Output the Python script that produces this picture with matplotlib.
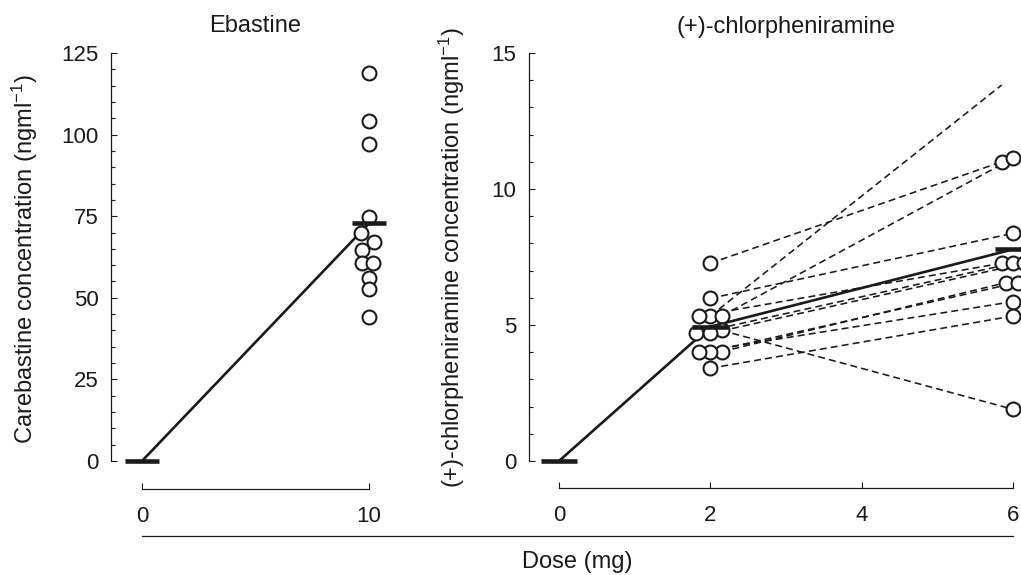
import numpy as np
import matplotlib
matplotlib.use('Agg')
import matplotlib.pyplot as plt
from matplotlib.lines import Line2D
from matplotlib.ticker import FixedLocator

plt.rcParams['font.family'] = ['Liberation Sans', 'DejaVu Sans']
plt.rcParams['mathtext.fontset'] = 'custom'
plt.rcParams['mathtext.rm'] = 'Liberation Sans'
plt.rcParams['mathtext.it'] = 'Liberation Sans:italic'
plt.rcParams['lines.scale_dashes'] = False

ink = '#1a1a1a'
fs_tick = 16
fs_text = 17

# Ebastine panel: carebastine concentration at 10 mg
eba_dose = 10
eba_conc = [119.0, 104.2, 97.0, 74.8, 69.9, 67.0, 64.6, 60.6, 60.6, 56.2, 52.7, 44.2]
eba_jitter = [0, 0, 0, 0, -0.35, 0.22, -0.33, -0.3, 0.18, 0, 0, 0]
eba_mean_dose = [0, 10]
eba_mean = [0, 72.8]

# (+)-chlorpheniramine panel: paired subjects, 2 mg -> 6 mg
chl_doses = [2, 6]
chl_2mg = [7.27, 5.98, 5.33, 5.33, 5.33, 4.80, 4.69, 4.69, 4.02, 4.02, 4.02, 3.41]
chl_6mg = [11.00, 8.37, 13.82, 11.13, 7.27, 1.90, 7.27, 7.27, 6.56, 6.56, 5.86, 5.33]
jit_2mg = [0, 0, 0, 0.15, -0.15, 0.15, -0.19, 0, 0.15, 0, -0.15, 0]
jit_6mg = [-0.15, 0, -0.15, 0, -0.15, 0, 0, 0.15, -0.09, 0.06, 0, 0]
marker_6mg = [True, True, False, True, True, True, True, True, True, True, True, True]
chl_mean_dose = [0, 2, 6]
chl_mean = [0, 4.94, 7.78]

W, H = 1021, 575
fig = plt.figure(figsize=(W / 100, H / 100), dpi=100)

def box(l, r, b, t):
    return [l / W, 1 - b / H, (r - l) / W, (b - t) / H]

ax1 = fig.add_axes(box(111, 400, 489, 53))
ax2 = fig.add_axes(box(529, 1021, 488, 53))
ax1.set_xlim(-31 / 22.7, 10 + 31 / 22.7)
ax1.set_ylim(-28 / 3.264, 125)
ax2.set_xlim(-30 / 75.67, 6 + 8 / 75.67)
ax2.set_ylim(-27 / 27.2, 15)

mk = dict(marker='o', ms=10, mfc='white', mec=ink, mew=1.5, ls='none', zorder=4, clip_on=False)

# left panel
ax1.plot(eba_mean_dose, eba_mean, color=ink, lw=1.9, zorder=3)
ax1.plot(eba_dose + np.array(eba_jitter), eba_conc, **mk)
ax1.hlines(eba_mean, np.array(eba_mean_dose) - 0.75, np.array(eba_mean_dose) + 0.75,
           color=ink, lw=3.3, zorder=5, clip_on=False)

# right panel
for c2, c6, j2, j6, m6 in zip(chl_2mg, chl_6mg, jit_2mg, jit_6mg, marker_6mg):
    ax2.plot([chl_doses[0] + j2, chl_doses[1] + j6], [c2, c6], color=ink, lw=1.15,
             ls=(0, (5.0, 3.0)), zorder=2)
    ax2.plot(chl_doses[0] + j2, c2, **mk)
    if m6:
        ax2.plot(chl_doses[1] + j6, c6, **mk)
ax2.plot(chl_mean_dose, chl_mean, color=ink, lw=1.9, zorder=3)
ax2.hlines(chl_mean, np.array(chl_mean_dose) - 0.24, np.array(chl_mean_dose) + 0.24,
           color=ink, lw=3.3, zorder=5, clip_on=False)

for ax, ymax, ystep, xt in [(ax1, 125, 5, [0, 10]), (ax2, 15, 1, [0, 2, 4, 6])]:
    ax.spines['top'].set_visible(False)
    ax.spines['right'].set_visible(False)
    ax.spines['left'].set_bounds(0, ymax)
    ax.spines['bottom'].set_bounds(xt[0], xt[-1])
    for s in ('left', 'bottom'):
        ax.spines[s].set_color(ink)
        ax.spines[s].set_linewidth(0.9)
    ax.set_xticks(xt)
    ax.yaxis.set_minor_locator(FixedLocator(np.arange(0, ymax + ystep / 2, ystep)))
    ax.tick_params(which='both', direction='in', colors=ink, width=0.8, labelsize=fs_tick)
    ax.tick_params(which='major', length=4.3)
    ax.tick_params(which='minor', length=2.9)
    ax.tick_params(axis='y', pad=9)
    ax.tick_params(axis='x', pad=12.5)
    ax.patch.set_visible(False)

ax1.set_yticks([0, 25, 50, 75, 100, 125])
ax2.set_yticks([0, 5, 10, 15])

def ftext(x, y, s, **kw):
    fig.text(x / W, 1 - y / H, s, ha='center', va='center', fontsize=fs_text, color=ink, **kw)

ftext(255, 26, 'Ebastine')
ftext(786, 27, '(+)-chlorpheniramine')
ftext(25, 259, 'Carebastine concentration (ngml$^{-1}$)', rotation=90)
ftext(452, 258, '(+)-chlorpheniramine concentration (ngml$^{-1}$)', rotation=90)
ftext(577, 562, 'Dose (mg)')

# common dose axis line under both panels
x0 = ax1.transData.transform((0, 0))[0]
x1 = ax2.transData.transform((6, 0))[0]
fig.add_artist(Line2D([x0 / W, x1 / W], [1 - 536 / H, 1 - 536 / H],
                      transform=fig.transFigure, color=ink, lw=0.9))

fig.savefig('out.png', dpi=100)
